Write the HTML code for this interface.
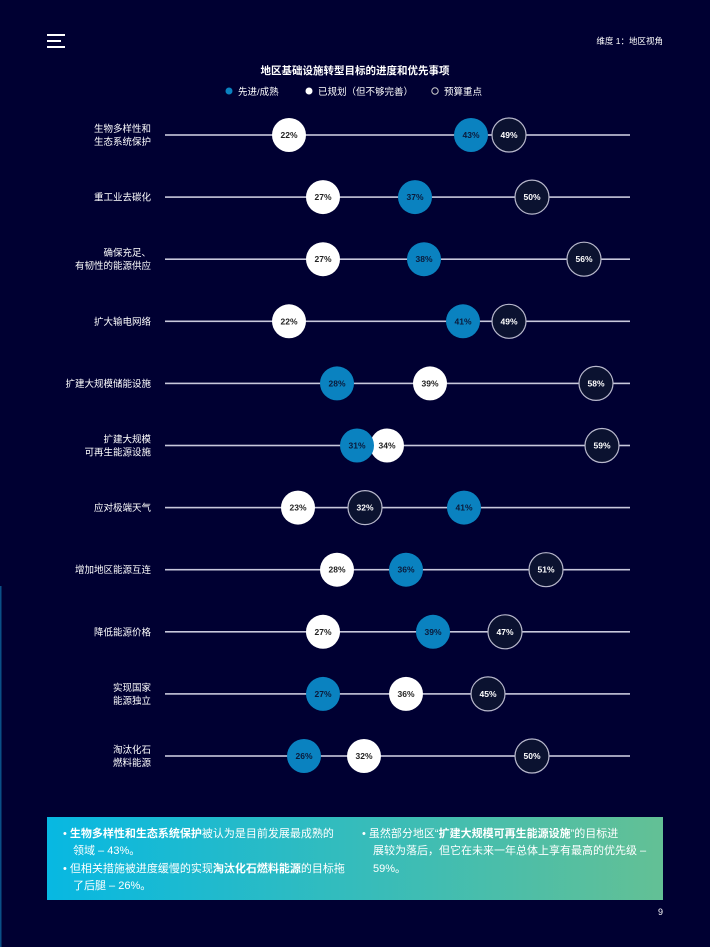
<!DOCTYPE html>
<html><head><meta charset="utf-8"><style>
body{margin:0;background:#000032;width:710px;height:947px;overflow:hidden;font-family:"Liberation Sans","Noto Sans CJK SC",sans-serif;}
</style></head><body>
<svg width="710" height="947" xmlns="http://www.w3.org/2000/svg" style="position:absolute;left:0;top:0;font-family:'Liberation Sans','Noto Sans CJK SC',sans-serif">
<rect width="710" height="947" fill="#000032"/>
<rect x="0" y="586" width="1.5" height="361" fill="#0a4f86"/>
<g fill="#fff"><rect x="47" y="34" width="18" height="2"/><rect x="47" y="40" width="14" height="2"/><rect x="47" y="46" width="18" height="2"/></g>
<text x="663" y="44" fill="#fff" font-size="8.5" text-anchor="end">维度 1：地区视角</text>
<text x="355" y="74" fill="#fff" font-size="10.5" font-weight="bold" text-anchor="middle">地区基础设施转型目标的进度和优先事项</text>
<circle cx="229" cy="91" r="3.5" fill="#0a82c0"/><text x="238" y="95" fill="#fff" font-size="9.5">先进/成熟</text>
<circle cx="309" cy="91" r="3.5" fill="#fff"/><text x="318" y="95" fill="#fff" font-size="9.5">已规划（但不够完善）</text>
<circle cx="435" cy="91" r="3.2" fill="none" stroke="#ccc" stroke-width="1"/><text x="444" y="95" fill="#fff" font-size="9.5">预算重点</text>
<g id="rows" font-size="9.5" fill="#fff"></g>
<defs><linearGradient id="g" x1="0" x2="1"><stop offset="0" stop-color="#07b8e2"/><stop offset="1" stop-color="#63c095"/></linearGradient></defs>
<rect x="47" y="817" width="616" height="83" fill="url(#g)"/>
<g fill="#fff" font-size="11">
<text x="63" y="837">• <tspan font-weight="bold">生物多样性和生态系统保护</tspan>被认为是目前发展最成熟的</text>
<text x="73" y="854">领域 – 43%。</text>
<text x="63" y="872">• 但相关措施被进度缓慢的实现<tspan font-weight="bold">淘汰化石燃料能源</tspan>的目标拖</text>
<text x="73" y="889">了后腿 – 26%。</text>
<text x="362" y="837">• 虽然部分地区“<tspan font-weight="bold">扩建大规模可再生能源设施</tspan>”的目标进</text>
<text x="373" y="854">展较为落后，但它在未来一年总体上享有最高的优先级 –</text>
<text x="373" y="872">59%。</text>
</g>
<text x="663" y="915" fill="#fff" font-size="9" text-anchor="end">9</text>
</svg>
<script>
var rows=[
[["生物多样性和","生态系统保护"],[22,289],[43,471],[49,509]],
[["重工业去碳化"],[27,323],[37,415],[50,532]],
[["确保充足、","有韧性的能源供应"],[27,323],[38,424],[56,584]],
[["扩大输电网络"],[22,289],[41,463],[49,509]],
[["扩建大规模储能设施"],[39,430],[28,337],[58,596]],
[["扩建大规模","可再生能源设施"],[34,387],[31,357],[59,602]],
[["应对极端天气"],[23,298],[41,464],[32,365]],
[["增加地区能源互连"],[28,337],[36,406],[51,546]],
[["降低能源价格"],[27,323],[39,433],[47,505]],
[["实现国家","能源独立"],[36,406],[27,323],[45,488]],
[["淘汰化石","燃料能源"],[32,364],[26,304],[50,532]]];
var s='';
rows.forEach(function(r,i){
 var y=135+i*62.1;
 s+='<rect x="165" y="'+(y-0.8)+'" width="465" height="1.6" fill="#c8c8dc"/>';
 var L=r[0];
 if(L.length==1) s+='<text x="151" y="'+(y+3.5)+'" text-anchor="end">'+L[0]+'</text>';
 else {s+='<text x="151" y="'+(y-3)+'" text-anchor="end">'+L[0]+'</text><text x="151" y="'+(y+10)+'" text-anchor="end">'+L[1]+'</text>';}
 var types=['w','b','o'];
 for(var k=1;k<4;k++){
  var v=r[k],t=types[k-1];
  var fill=t=='w'?'#fff':t=='b'?'#0a82c0':'#0b1230';
  var st=t=='o'?' stroke="#b8b8cc" stroke-width="1.2"':'';
  var tc=t=='w'?'#222':t=='b'?'#0b1a3a':'#fff';
  s+='<circle cx="'+v[1]+'" cy="'+y+'" r="17" fill="'+fill+'"'+st+'/>';
  s+='<text x="'+v[1]+'" y="'+(y+3)+'" text-anchor="middle" font-size="8.5" font-weight="bold" fill="'+tc+'">'+v[0]+'%</text>';
 }
});
document.getElementById('rows').innerHTML=s;
</script>
</body></html>
